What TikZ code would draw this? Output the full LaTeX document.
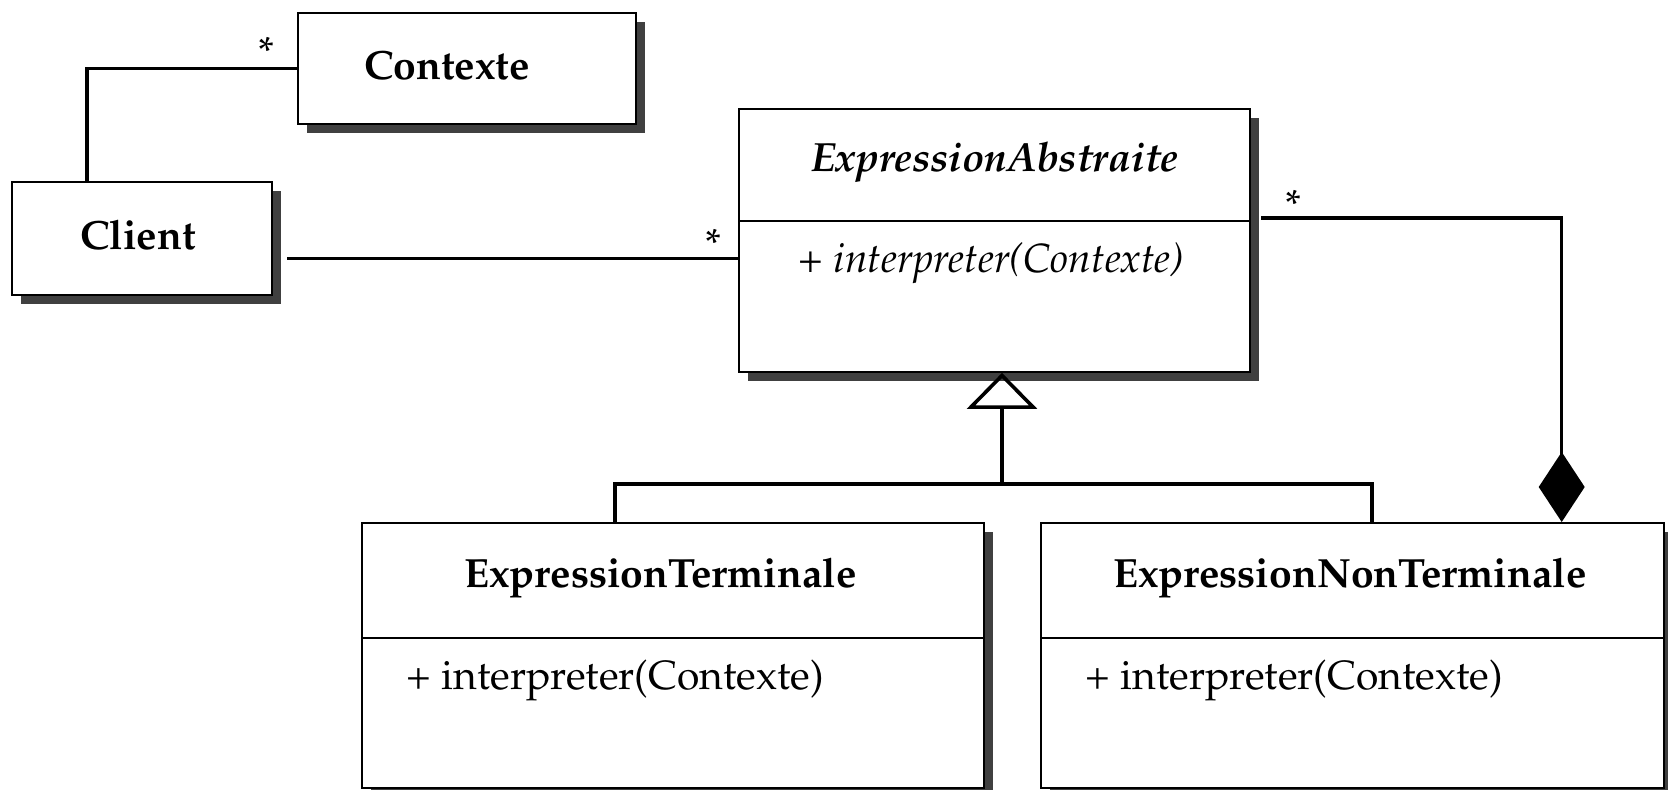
\documentclass[tikz,border=0pt]{standalone}
\usepackage[T1]{fontenc}
\renewcommand{\rmdefault}{ppl}
\usetikzlibrary{calc,shadows,arrows.meta}
\definecolor{shgray}{HTML}{404040}
\begin{document}
\begin{tikzpicture}[x=0.25pt,y=-0.25pt,
  font=\fontsize{10.2}{12}\selectfont,
  classbox/.style={draw, line width=0.5pt, fill=white, inner sep=0pt,
    anchor=north west,
    drop shadow={shadow xshift=2.25pt, shadow yshift=-2.25pt, fill=shgray, opacity=1}},
  title/.style={font=\fontsize{10.2}{12}\selectfont\bfseries, anchor=mid, inner sep=0pt},
  method/.style={anchor=mid west, inner sep=0pt},
  sepline/.style={line width=0.4pt},
  link/.style={line width=0.85pt},
  mult/.style={anchor=base, inner sep=0pt, font=\fontsize{10.2}{12}\selectfont}]
\useasboundingbox (0,0) rectangle (1668,790);

% classes
\node[classbox, minimum width=84.5pt, minimum height=27.9pt] (ctx) at (297,11.7) {};
\node[classbox, minimum width=65.1pt, minimum height=28.25pt] (cl) at (10.6,181) {};
\node[classbox, minimum width=127.75pt, minimum height=65.6pt] (ea) at (738,108.5) {};
\node[classbox, minimum width=155.5pt, minimum height=66.25pt] (et) at (361,522) {};
\node[classbox, minimum width=155.75pt, minimum height=66.25pt] (ent) at (1040,522) {};

% compartment separators
\draw[sepline] (ea.west |- 0,221) -- (ea.east |- 0,221);
\draw[sepline] (et.west |- 0,638) -- (et.east |- 0,638);
\draw[sepline] (ent.west |- 0,638) -- (ent.east |- 0,638);

% names and operations
\node[title] (ctxname) at (447,70) {Contexte};
\node[title] (clname) at (138,240.5) {Client};
\node[title, font=\fontsize{10.2}{12}\selectfont\bfseries\itshape] (eaname) at (995,162.5) {ExpressionAbstraite};
\node[method, font=\fontsize{10.2}{12}\selectfont\itshape] (eaop) at (798,263.6) {+ interpreter(Contexte)};
\node[title] (etname) at (660.6,578.5) {ExpressionTerminale};
\node[method] (etop) at (406,680.6) {+ interpreter(Contexte)};
\node[title] (entname) at (1350,578.5) {ExpressionNonTerminale};
\node[method] (entop) at (1085,680.6) {+ interpreter(Contexte)};

% Client -- Contexte
\coordinate (clTop) at ($(cl.north west)+(76.4,0)$);
\draw[link] (clTop) |- (ctx.west);
\node[mult] (m1) at (266,66) {*};

% Client -- ExpressionAbstraite
\coordinate (clR) at ($(cl.east)+(14,20)$);
\draw[link] (clR) -- (ea.west |- clR);
\node[mult] (m2) at (713,258) {*};

% composition
\coordinate (eaR) at ($(ea.north east)+(10,109.5)$);
\coordinate (entTop) at ($(ent.north west)+(521.7,0)$);
\draw[link, {Diamond[length=17.5pt, width=11.5pt]}-] (entTop) |- (eaR);
\node[mult] (m3) at (1293.6,219) {*};

% generalisation
\coordinate (fork) at ($(ea.south)+(7.5,111)$);
\coordinate (etTop) at ($(et.north west)+(254,0)$);
\coordinate (entTopL) at ($(ent.north west)+(332,0)$);
\draw[link, -{Triangle[open, length=9pt, width=17.5pt, line width=0.9pt]}] (fork) -- (fork |- ea.south);
\draw[link] (etTop) |- (fork) -| (entTopL);
\end{tikzpicture}
\end{document}
